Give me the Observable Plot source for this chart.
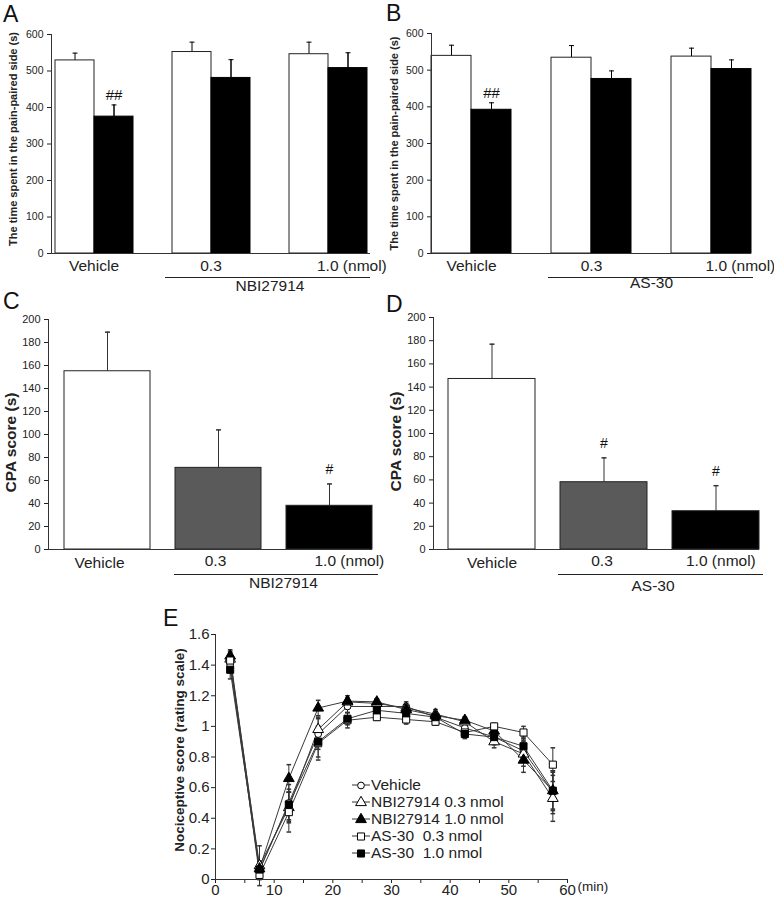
<!DOCTYPE html>
<html><head><meta charset="utf-8">
<script src="https://cdn.jsdelivr.net/npm/d3@7"></script>
<script src="https://cdn.jsdelivr.net/npm/@observablehq/plot@0.6"></script>
<style>
body{margin:0;background:#fff;}
#root{position:relative;width:774px;height:899px;overflow:hidden;font-family:"Liberation Sans",Arial,Helvetica,sans-serif;color:#222;}
.plabel{position:absolute;font-size:23px;line-height:1;color:#111;}
.leg{position:absolute;font-size:15.5px;color:#222;}
.legrow{display:flex;align-items:center;height:17.1px;white-space:pre;}
.legrow svg{margin-right:1px;}
</style></head><body><div id="root"></div>
<script>
// ---------- DATA ----------
const doseGroups = ["Vehicle", "0.3", "1.0"];
const doseTickLabels = ["Vehicle", "0.3", "1.0 (nmol)"];
const drugNames = ["NBI27914", "AS-30"];

// Panel A (NBI27914) time in pain-paired side (s): white = pre, black = post
const timeA_pre = [529, 552, 546];
const timeA_preSem = [20, 27, 33];
const timeA_post = [375, 481, 508];
const timeA_postSem = [32, 50, 42];
const sigA_post = ["##", "", ""];

// Panel B (AS-30)
const timeB_pre = [539, 534, 537];
const timeB_preSem = [29, 33, 23];
const timeB_post = [392, 476, 503];
const timeB_postSem = [19, 22, 25];
const sigB_post = ["##", "", ""];

const timeTicks = [0, 100, 200, 300, 400, 500, 600];
const timeTitle = "The time spent in the pain-paired side (s)";

// Panel C / D CPA score (s)
const cpaC = [155, 71, 38];
const cpaC_sem = [34, 33, 19];
const sigC = ["", "", "#"];
const cpaD = [147, 58, 33];
const cpaD_sem = [30, 21, 22];
const sigD = ["", "#", "#"];
const cpaTicks = [0, 20, 40, 60, 80, 100, 120, 140, 160, 180, 200];
const cpaTitle = "CPA score (s)";
const cpaFills = ["white", "#5a5a5a", "black"];

// Panel E nociceptive score over time
const minutes = [2.5, 7.5, 12.5, 17.5, 22.5, 27.5, 32.5, 37.5, 42.5, 47.5, 52.5, 57.5];
const vehicleScore = [1.40, 0.06, 0.50, 0.95, 1.13, 1.13, 1.13, 1.06, 0.99, 0.93, 0.84, 0.57];
const vehicleSem   = [0.05, 0.06, 0.12, 0.10, 0.04, 0.03, 0.03, 0.03, 0.04, 0.05, 0.07, 0.14];
const nbi03Score   = [1.44, 0.09, 0.47, 0.98, 1.16, 1.15, 1.12, 1.08, 1.03, 0.90, 0.82, 0.53];
const nbi03Sem     = [0.05, 0.13, 0.10, 0.08, 0.04, 0.03, 0.02, 0.03, 0.03, 0.04, 0.08, 0.15];
const nbi10Score   = [1.46, 0.07, 0.66, 1.12, 1.165, 1.16, 1.11, 1.07, 1.04, 0.97, 0.78, 0.58];
const nbi10Sem     = [0.04, 0.05, 0.09, 0.05, 0.02, 0.02, 0.02, 0.02, 0.02, 0.03, 0.08, 0.12];
const as03Score    = [1.43, 0.03, 0.44, 0.89, 1.04, 1.06, 1.045, 1.03, 0.96, 1.00, 0.96, 0.75];
const as03Sem      = [0.05, 0.03, 0.13, 0.11, 0.05, 0.02, 0.03, 0.02, 0.03, 0.02, 0.04, 0.11];
const as10Score    = [1.37, 0.065, 0.49, 0.90, 1.05, 1.105, 1.085, 1.06, 0.95, 0.93, 0.87, 0.58];
const as10Sem      = [0.06, 0.04, 0.10, 0.10, 0.04, 0.03, 0.03, 0.03, 0.03, 0.04, 0.06, 0.13];
const seriesNames = ["Vehicle", "NBI27914 0.3 nmol", "NBI27914 1.0 nmol", "AS-30  0.3 nmol", "AS-30  1.0 nmol"];
const seriesSymbols = ["circle", "triangle", "triangle", "square", "square"];
const seriesFills = ["white", "white", "black", "white", "black"];
const scoreTicks = [0, 0.2, 0.4, 0.6, 0.8, 1.0, 1.2, 1.4, 1.6];
const minuteTicks = [0, 5, 10, 15, 20, 25, 30, 35, 40, 45, 50, 55, 60];
const minuteUnit = "(min)";
const scoreTitle = "Nociceptive score (rating scale)";
const panelLetters = ["A", "B", "C", "D", "E"];

// ---------- DRAWING ----------
const FONT = '"Liberation Sans", Arial, Helvetica, sans-serif';
const root = document.getElementById("root");
function place(el, left, top) {
  el.style.position = "absolute";
  el.style.left = left + "px";
  el.style.top = top + "px";
  root.appendChild(el);
}
const capSym = {draw(ctx, size) { const r = Math.sqrt(size / Math.PI); ctx.moveTo(-r, 0); ctx.lineTo(r, 0); }};

function pairedPanel(c) {
  const slots = ["Vehicle|Pre", "Vehicle|Post", "gap1", "0.3|Pre", "0.3|Post", "gap2", "1.0|Pre", "1.0|Post"];
  const rows = [];
  doseGroups.forEach((g, i) => {
    rows.push({key: g + "|Pre", phase: "Pre", value: c.pre[i], sem: c.preSem[i], sig: ""});
    rows.push({key: g + "|Post", phase: "Post", value: c.post[i], sem: c.postSem[i], sig: c.sig[i]});
  });
  const lbl = (slot, txt, dx, anchor) => Plot.text([txt], {x: () => slot, frameAnchor: "bottom", text: d => d, dx, dy: 17.5, textAnchor: anchor, fontSize: 15.5, fill: "#222"});
  const svg = Plot.plot({
    width: c.w, height: c.h,
    marginLeft: c.mL, marginRight: c.mR, marginTop: c.mT, marginBottom: c.mB,
    style: {fontFamily: FONT, fontSize: "10.5px", color: "#222", background: "transparent", overflow: "visible"},
    x: {domain: slots, padding: 0, axis: null},
    y: {domain: [0, 600], ticks: timeTicks, tickSize: 4, tickPadding: 4, label: null},
    marks: [
      Plot.ruleX(rows, {x: "key", y1: "value", y2: d => d.value + d.sem, stroke: "black", strokeWidth: 1}),
      Plot.dot(rows, {x: "key", y: d => d.value + d.sem, symbol: capSym, r: 2.5, stroke: "black", fill: "none", strokeWidth: 1}),
      Plot.barY(rows.filter(d => d.phase === "Pre"), {x: "key", y: "value", fill: "white", stroke: "#222", strokeWidth: 1}),
      Plot.barY(rows.filter(d => d.phase === "Post"), {x: "key", y: "value", fill: "black", stroke: "black", strokeWidth: 1}),
      Plot.ruleX(rows.filter(d => d.phase === "Post"), {x: "key", y1: "value", y2: d => d.value + d.sem, stroke: "black", strokeWidth: 1}),
      Plot.text(rows.filter(d => d.sig), {x: "key", y: d => d.value + d.sem, text: "sig", dy: -10, fontSize: 15, fill: "#111"}),
      Plot.ruleY([0], {stroke: "#333"}),
      Plot.frame({anchor: "left", stroke: "#333"}),
      Plot.text([timeTitle], {frameAnchor: "left", textAnchor: "middle", text: d => d, rotate: -90, dx: c.titleDx, dy: c.titleDy, fontWeight: "bold", fontSize: 11, fill: "#222"}),
      lbl("Vehicle|Post", doseTickLabels[0], -20, "middle"),
      lbl("0.3|Post", doseTickLabels[1], -20, "middle"),
      lbl("1.0|Post", doseTickLabels[2], c.lastDx, "start"),
      Plot.ruleY([0], {x1: () => "0.3|Pre", x2: () => "1.0|Post", dy: 24, insetLeft: c.ulL, insetRight: c.ulR, stroke: "#222", strokeWidth: 1.2}),
      Plot.text([c.drug], {x: () => "gap2", frameAnchor: "bottom", text: d => d, dy: c.drugDy, fontSize: 15.5, fill: "#222"})
    ]
  });
  place(svg, c.left, c.top);
}

function cpaPanel(c) {
  const rows = doseGroups.map((g, i) => ({group: g, value: c.values[i], sem: c.sem[i], sig: c.sig[i]}));
  const lbl = (g, txt, dx, anchor, dy) => Plot.text([txt], {x: () => g, frameAnchor: "bottom", text: d => d, dx, dy, textAnchor: anchor, fontSize: 15.5, fill: "#222"});
  const svg = Plot.plot({
    width: c.w, height: c.h,
    marginLeft: c.mL, marginRight: c.mR, marginTop: c.mT, marginBottom: c.mB,
    style: {fontFamily: FONT, fontSize: "11px", color: "#222", background: "transparent", overflow: "visible"},
    x: {domain: doseGroups, paddingInner: 0.224, paddingOuter: 0.062, align: 1, axis: null},
    y: {domain: [0, 200], ticks: cpaTicks, tickSize: 4, tickPadding: 4, label: null},
    color: {domain: doseGroups, range: cpaFills},
    marks: [
      Plot.ruleX(rows, {x: "group", y1: "value", y2: d => d.value + d.sem, stroke: "#333", strokeWidth: 1}),
      Plot.dot(rows, {x: "group", y: d => d.value + d.sem, symbol: capSym, r: 2.5, stroke: "#333", fill: "none"}),
      Plot.barY(rows, {x: "group", y: "value", fill: "group", stroke: "#222", strokeWidth: 1}),
      Plot.text(rows.filter(d => d.sig), {x: "group", y: d => d.value + d.sem, text: "sig", dy: -14, fontSize: 14, fill: "#111"}),
      Plot.ruleY([0], {stroke: "#333"}),
      Plot.frame({anchor: "left", stroke: "#333"}),
      Plot.text([cpaTitle], {frameAnchor: "left", textAnchor: "middle", text: d => d, rotate: -90, dx: c.titleDx, dy: 8, fontWeight: "bold", fontSize: 15.5, fill: "#222"}),
      lbl("Vehicle", doseTickLabels[0], c.vehDx, "middle", 18),
      lbl("0.3", doseTickLabels[1], c.midDx, "middle", 16),
      lbl("1.0", doseTickLabels[2], c.lastDx, "start", 16),
      Plot.ruleY([0], {x1: () => "0.3", x2: () => "1.0", dy: 25, insetLeft: c.ulL, insetRight: c.ulR, stroke: "#222", strokeWidth: 1.2}),
      Plot.text([c.drug], {x: () => "1.0", frameAnchor: "bottom", text: d => d, dx: c.drugDx, dy: c.drugDy, fontSize: 15.5, fill: "#222"})
    ]
  });
  place(svg, c.left, c.top);
}

pairedPanel({pre: timeA_pre, preSem: timeA_preSem, post: timeA_post, postSem: timeA_postSem, sig: sigA_post, drug: drugNames[0],
  left: 0, top: 0, w: 390, h: 300, mL: 51, mR: 20, mT: 34, mB: 47, titleDx: -38, titleDy: -5, lastDx: -31, ulL: -7, ulR: -3, drugDy: 37});
pairedPanel({pre: timeB_pre, preSem: timeB_preSem, post: timeB_post, postSem: timeB_postSem, sig: sigB_post, drug: drugNames[1],
  left: 385, top: 0, w: 389, h: 300, mL: 46, mR: 23, mT: 33, mB: 47, titleDx: -37, titleDy: 0, lastDx: -26, ulL: -3, ulR: -2, drugDy: 34});
cpaPanel({values: cpaC, sem: cpaC_sem, sig: sigC, drug: drugNames[0],
  left: 0, top: 300, w: 390, h: 300, mL: 48, mR: 18, mT: 19, mB: 51, titleDx: -37, vehDx: -8, midDx: -3, lastDx: -15, ulL: -1, ulR: -6, drugDx: -46, drugDy: 38});
cpaPanel({values: cpaD, sem: cpaD_sem, sig: sigD, drug: drugNames[1],
  left: 385, top: 300, w: 389, h: 300, mL: 48, mR: 15, mT: 17, mB: 51, titleDx: -37, vehDx: 0, midDx: -2, lastDx: -30, ulL: -2, ulR: -4, drugDx: -63, drugDy: 41});

// Panel E
const seriesData = [
  [vehicleScore, vehicleSem], [nbi03Score, nbi03Sem], [nbi10Score, nbi10Sem], [as03Score, as03Sem], [as10Score, as10Sem]
];
const rowsE = seriesData.flatMap(([vals, sems], s) => minutes.map((t, i) => ({series: seriesNames[s], s, t, v: vals[i], e: sems[i]})));
const dotMarks = seriesNames.map((n, s) => Plot.dot(rowsE.filter(d => d.s === s), {x: "t", y: "v", symbol: seriesSymbols[s], fill: seriesFills[s], stroke: "black", strokeWidth: 1, r: seriesSymbols[s] === "circle" ? 3.4 : 4}));
const svgE = Plot.plot({
  width: 500, height: 299, marginLeft: 65, marginRight: 83, marginTop: 34, marginBottom: 20,
  style: {fontFamily: FONT, fontSize: "15px", color: "#222", background: "transparent", overflow: "visible"},
  x: {domain: [0, 60], ticks: minuteTicks, tickFormat: d => d % 10 === 0 ? String(d) : "", tickSize: 4, tickPadding: 1, label: null},
  y: {domain: [0, 1.6], ticks: scoreTicks, tickFormat: d => String(+d.toFixed(1)), tickSize: 4, tickPadding: 2, label: null},
  marks: [
    Plot.line(rowsE, {x: "t", y: "v", z: "series", stroke: "#3a3a3a", strokeWidth: 1}),
    Plot.ruleX(rowsE, {x: "t", y1: d => d.v - d.e, y2: d => d.v + d.e, stroke: "#333", strokeWidth: 1}),
    Plot.dot(rowsE, {x: "t", y: d => d.v + d.e, symbol: capSym, r: 2.3, stroke: "#333", fill: "none"}),
    Plot.dot(rowsE, {x: "t", y: d => d.v - d.e, symbol: capSym, r: 2.3, stroke: "#333", fill: "none"}),
    ...dotMarks,
    Plot.ruleX([0], {stroke: "#333"}),
    Plot.ruleY([0], {stroke: "#333"}),
    Plot.text([minuteUnit], {x: () => 60, frameAnchor: "bottom", text: d => d, textAnchor: "start", dx: 10, dy: 11, fontSize: 13.5, fill: "#222"}),
    Plot.text([scoreTitle], {frameAnchor: "left", textAnchor: "middle", text: d => d, rotate: -90, dx: -36, dy: -7, fontWeight: "bold", fontSize: 13.5, fill: "#222"})
  ]
});
place(svgE, 150, 600);

// Legend for E (HTML overlay)
const leg = document.createElement("div");
leg.className = "leg";
seriesNames.forEach((n, s) => {
  const row = document.createElement("div");
  row.className = "legrow";
  const size = seriesSymbols[s] === "circle" ? 36 : 50;
  const sym = d3.symbol(seriesSymbols[s] === "circle" ? d3.symbolCircle : seriesSymbols[s] === "square" ? d3.symbolSquare : d3.symbolTriangle, size)();
  row.innerHTML = `<svg width="18" height="12" viewBox="0 0 18 12"><line x1="0" x2="18" y1="6" y2="6" stroke="#333"/><path d="${sym}" transform="translate(9,6.5)" fill="${seriesFills[s]}" stroke="black"/></svg><span>${n}</span>`;
  leg.appendChild(row);
});
place(leg, 352, 776);

// Panel letters
const letterPos = [[3, 3], [386, 2], [3, 290], [386, 293], [163, 607]];
panelLetters.forEach((L, i) => {
  const d = document.createElement("div");
  d.className = "plabel";
  d.textContent = L;
  place(d, letterPos[i][0], letterPos[i][1]);
});
</script></body></html>
